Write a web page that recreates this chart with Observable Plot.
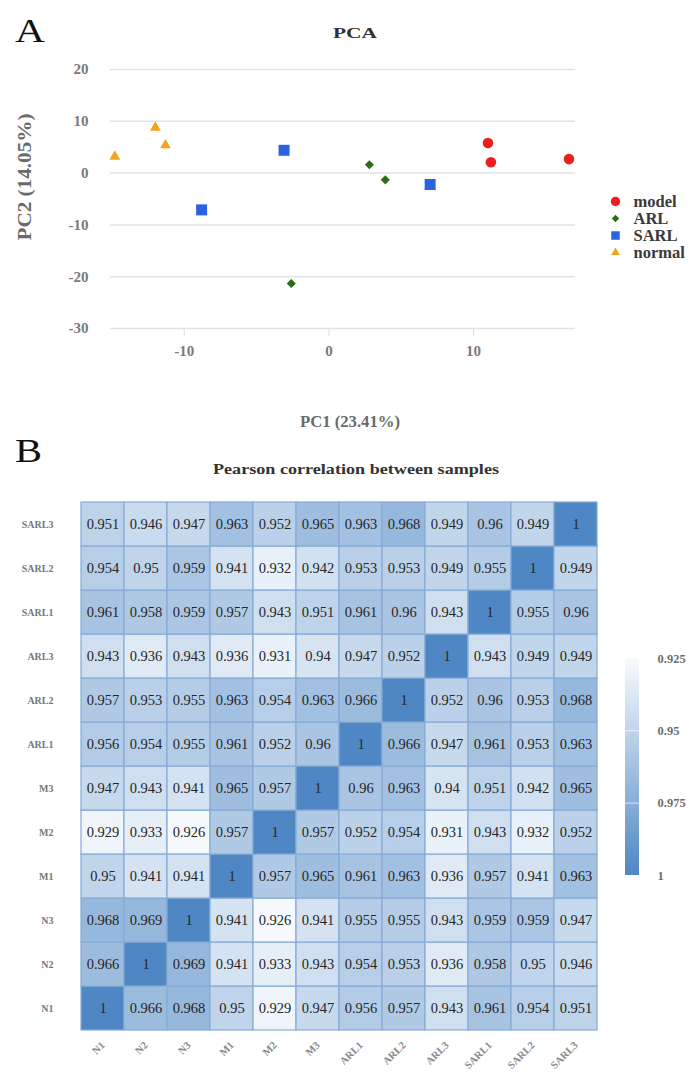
<!DOCTYPE html>
<html>
<head>
<meta charset="utf-8">
<script src="https://cdn.jsdelivr.net/npm/d3@7"></script>
<script src="https://cdn.jsdelivr.net/npm/@observablehq/plot@0.6"></script>
<style>
  html, body { margin: 0; padding: 0; background: #fff; }
  #page { position: relative; width: 691px; height: 1073px; overflow: hidden; }
  #page > svg { position: absolute; overflow: visible; }
</style>
</head>
<body>
<div id="page"></div>
<script>
// ---- Panel A: PCA scores ----
const groups = ["model", "ARL", "SARL", "normal"];
const pcaGroup = ["model", "model", "model", "ARL", "ARL", "ARL", "SARL", "SARL", "SARL", "normal", "normal", "normal"];
const pc1 = [11.0, 11.2, 16.6, -2.6, 2.8, 3.9, -8.8, -3.1, 7.0, -14.8, -12.0, -11.3];
const pc2 = [5.8, 2.1, 2.7, -21.3, 1.6, -1.3, -7.1, 4.4, -2.2, 3.2, 8.8, 5.4];
const pcaTicksX = [-10, 0, 10];
const pcaTicksY = [-30, -20, -10, 0, 10, 20];

// ---- Panel B: Pearson correlation between samples ----
const samples = ["N1", "N2", "N3", "M1", "M2", "M3", "ARL1", "ARL2", "ARL3", "SARL1", "SARL2", "SARL3"];
// one row per sample (N1 … SARL3), columns in the same order
const corr = [
  [1, 0.966, 0.968, 0.95, 0.929, 0.947, 0.956, 0.957, 0.943, 0.961, 0.954, 0.951],
  [0.966, 1, 0.969, 0.941, 0.933, 0.943, 0.954, 0.953, 0.936, 0.958, 0.95, 0.946],
  [0.968, 0.969, 1, 0.941, 0.926, 0.941, 0.955, 0.955, 0.943, 0.959, 0.959, 0.947],
  [0.95, 0.941, 0.941, 1, 0.957, 0.965, 0.961, 0.963, 0.936, 0.957, 0.941, 0.963],
  [0.929, 0.933, 0.926, 0.957, 1, 0.957, 0.952, 0.954, 0.931, 0.943, 0.932, 0.952],
  [0.947, 0.943, 0.941, 0.965, 0.957, 1, 0.96, 0.963, 0.94, 0.951, 0.942, 0.965],
  [0.956, 0.954, 0.955, 0.961, 0.952, 0.96, 1, 0.966, 0.947, 0.961, 0.953, 0.963],
  [0.957, 0.953, 0.955, 0.963, 0.954, 0.963, 0.966, 1, 0.952, 0.96, 0.953, 0.968],
  [0.943, 0.936, 0.943, 0.936, 0.931, 0.94, 0.947, 0.952, 1, 0.943, 0.949, 0.949],
  [0.961, 0.958, 0.959, 0.957, 0.943, 0.951, 0.961, 0.96, 0.943, 1, 0.955, 0.96],
  [0.954, 0.95, 0.959, 0.941, 0.932, 0.942, 0.953, 0.953, 0.949, 0.955, 1, 0.949],
  [0.951, 0.946, 0.947, 0.963, 0.952, 0.965, 0.963, 0.968, 0.949, 0.96, 0.949, 1]
];
const colorTicks = [0.925, 0.95, 0.975, 1];

// ---- shared look ----
const serif = "'Liberation Serif', 'Times New Roman', serif";
const plain = d => String(d); // keep an ASCII hyphen for negatives
const groupStyle = {
  model:  {symbol: "circle",   fill: "#ec1f1f", r: 5.3, rLegend: 4.7},
  ARL:    {symbol: "diamond2", fill: "#2c6e18", r: 4.1, rLegend: 3.3},
  SARL:   {symbol: "square",   fill: "#2a63de", r: 6.2, rLegend: 4.8},
  normal: {symbol: "triangle", fill: "#f4a31d", r: 4.0, rLegend: 3.2}
};
const corrDomain = [0.925, 1];
const corrRange = ["#f8fbfe", "#4f87c4"];

const page = document.getElementById("page");
function place(svg, left, top) {
  svg.style.left = left + "px";
  svg.style.top = top + "px";
  page.appendChild(svg);
}

// ---- PCA scatter ----
const scores = pc1.map((x, i) => ({group: pcaGroup[i], pc1: x, pc2: pc2[i]}));

const pca = Plot.plot({
  width: 691,
  height: 440,
  marginTop: 69,
  marginBottom: 112,
  marginLeft: 110,
  marginRight: 116,
  style: {fontFamily: serif, background: "transparent"},
  x: {domain: [-15.1, 17.05], axis: null, label: null},
  y: {domain: [-30, 20], axis: null, label: null},
  marks: [
    Plot.gridY(pcaTicksY, {stroke: "#e2e2ea", strokeOpacity: 1, strokeWidth: 1.5}),
    Plot.axisY(pcaTicksY, {tickSize: 0, tickPadding: 22, tickFormat: plain, fill: "#7a7a7a", fontSize: 15, fontWeight: "bold", label: null}),
    Plot.axisX(pcaTicksX, {tickSize: 8, tickPadding: 9, tickFormat: plain, stroke: "#dcdce6", fill: "#7a7a7a", fontSize: 15, fontWeight: "bold", label: null}),
    ...groups.map(g => Plot.dot(scores.filter(d => d.group === g), {
      x: "pc1", y: "pc2",
      symbol: groupStyle[g].symbol, fill: groupStyle[g].fill, r: groupStyle[g].r
    }))
  ]
});
place(pca, 0, 0);

// ---- PCA legend ----
const legend = Plot.plot({
  width: 93,
  height: 80,
  marginTop: 15,
  marginBottom: 12.5,
  marginLeft: 15,
  marginRight: 0,
  style: {fontFamily: serif, background: "transparent"},
  y: {type: "point", domain: groups, padding: 0, axis: null},
  marks: [
    ...groups.map(g => Plot.dot([g], {
      y: d => d, frameAnchor: "left",
      symbol: groupStyle[g].symbol, fill: groupStyle[g].fill, r: groupStyle[g].rLegend
    })),
    Plot.text(groups, {
      y: d => d, text: d => d, frameAnchor: "left", dx: 18, textAnchor: "start",
      fontSize: 16.5, fontWeight: "bold", fill: "#3a3a3a", fontFamily: serif
    })
  ]
});
place(legend, 600, 185);

// ---- correlation heatmap ----
const cells = [];
corr.forEach((row, i) => row.forEach((v, j) => cells.push({row: samples[i], col: samples[j], value: v})));

const heat = Plot.plot({
  width: 691,
  height: 633,
  marginTop: 57,
  marginBottom: 39,
  marginLeft: 76,
  marginRight: 89,
  style: {fontFamily: serif, background: "transparent"},
  x: {domain: samples, padding: 0, axis: null, label: null},
  y: {domain: samples.slice().reverse(), padding: 0, axis: null, label: null},
  color: {type: "linear", domain: corrDomain, range: corrRange},
  marks: [
    Plot.cell(cells, {x: "col", y: "row", fill: "value", stroke: "#86abd6", strokeWidth: 1.2, inset: 0}),
    Plot.text(cells, {x: "col", y: "row", text: d => String(d.value), fill: "#262626", fontSize: 14.5, fontFamily: serif}),
    Plot.axisY({tickSize: 0, tickPadding: 23, fill: "#777", fontSize: 10, fontWeight: "bold", label: null}),
    Plot.axisX({tickSize: 0, tickPadding: 9, tickRotate: -45, fill: "#888", fontSize: 10.5, fontWeight: "bold", label: null})
  ]
});
place(heat, 0, 440);

// ---- colour bar ----
const step = 0.0005;
const ramp = d3.range(corrDomain[0], corrDomain[1], step);
const bar = Plot.plot({
  width: 91,
  height: 260,
  marginTop: 18,
  marginBottom: 25,
  marginLeft: 25,
  marginRight: 52,
  style: {fontFamily: serif, background: "transparent"},
  y: {domain: corrDomain, reverse: true, axis: null},
  color: {type: "linear", domain: corrDomain, range: corrRange},
  marks: [
    Plot.rect(ramp, {y1: d => d, y2: d => Math.min(d + step * 1.5, corrDomain[1]), fill: d => d + step / 2}),
    Plot.ruleY(colorTicks.slice(1, -1), {stroke: "#fff", strokeOpacity: 0.7, strokeWidth: 1}),
    Plot.axisY(colorTicks, {anchor: "right", tickSize: 0, tickPadding: 18, tickFormat: plain,
      fill: "#6e6e6e", fontSize: 12.5, fontWeight: "bold", label: null})
  ]
});
place(bar, 600, 640);

// ---- panel letters, titles and axis titles ----
const notes = d3.create("svg").attr("width", 691).attr("height", 1073)
  .style("font-family", serif);
function note(text, x, y, o) {
  const t = notes.append("text")
    .attr("x", x).attr("y", y)
    .attr("text-anchor", o.anchor || "start")
    .attr("font-size", o.size)
    .attr("font-weight", o.weight || "normal")
    .attr("fill", o.fill || "#111")
    .text(text);
  if (o.length) t.attr("textLength", o.length).attr("lengthAdjust", "spacingAndGlyphs");
  if (o.rotate) t.attr("transform", `rotate(${o.rotate},${x},${y})`);
  return t;
}
note("A", 15, 42, {size: 33, length: 30});
note("PCA", 355, 38, {size: 15, weight: "bold", fill: "#333", anchor: "middle", length: 44});
note("PC2 (14.05%)", 31, 177, {size: 19, weight: "bold", fill: "#6a6a6a", anchor: "middle", rotate: -90, length: 127});
note("PC1 (23.41%)", 350, 427, {size: 16, weight: "bold", fill: "#6a6a6a", anchor: "middle", length: 100});
note("B", 15, 462, {size: 33, length: 27});
note("Pearson correlation between samples", 356, 474, {size: 14, weight: "bold", fill: "#333", anchor: "middle", length: 286});
place(notes.node(), 0, 0);
</script>
</body>
</html>
